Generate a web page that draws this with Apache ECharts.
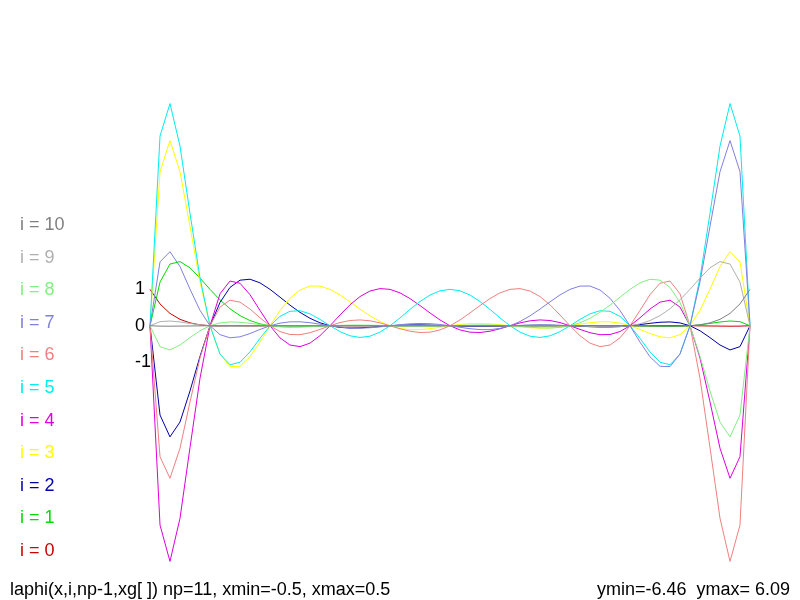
<!DOCTYPE html>
<html>
<head>
<meta charset="utf-8">
<script src="https://cdn.jsdelivr.net/npm/echarts@6/dist/echarts.min.js"></script>
<style>html,body{margin:0;padding:0;background:#fff;}#c{width:800px;height:600px;}</style>
</head>
<body>
<div id="c"></div>
<script>
var xs = [-0.5,-0.4833,-0.4667,-0.45,-0.4333,-0.4167,-0.4,-0.3833,-0.3667,-0.35,-0.3333,-0.3167,-0.3,-0.2833,-0.2667,-0.25,-0.2333,-0.2167,-0.2,-0.1833,-0.1667,-0.15,-0.1333,-0.1167,-0.1,-0.0833,-0.0667,-0.05,-0.0333,-0.0167,0,0.0167,0.0333,0.05,0.0667,0.0833,0.1,0.1167,0.1333,0.15,0.1667,0.1833,0.2,0.2167,0.2333,0.25,0.2667,0.2833,0.3,0.3167,0.3333,0.35,0.3667,0.3833,0.4,0.4167,0.4333,0.45,0.4667,0.4833,0.5];

var phi0 = [1,0.5994,0.3390,0.1762,0.0795,0.0262,0,-0.0102,-0.0117,-0.0093,-0.0057,-0.0024,0,0.0013,0.0018,0.0016,0.0011,0.0005,0,-0.0004,-0.0005,-0.0005,-0.0004,-0.0002,0,0.0002,0.0003,0.0003,0.0002,0.0001,0,-0.0001,-0.0002,-0.0002,-0.0002,-0.0001,0,0.0001,0.0002,0.0003,0.0003,0.0002,0,-0.0002,-0.0004,-0.0005,-0.0005,-0.0004,0,0.0005,0.0011,0.0016,0.0018,0.0013,0,-0.0024,-0.0057,-0.0093,-0.0117,-0.0102,0];
var phi1 = [0,1.1989,1.6951,1.7620,1.5906,1.3092,1,0.7112,0.4676,0.2782,0.1420,0.0524,0,-0.0249,-0.0315,-0.0273,-0.0182,-0.0083,0,0.0054,0.0078,0.0076,0.0057,0.0029,0,-0.0023,-0.0036,-0.0038,-0.0030,-0.0017,0,0.0015,0.0026,0.0029,0.0025,0.0015,0,-0.0016,-0.0028,-0.0035,-0.0032,-0.0020,0,0.0025,0.0048,0.0063,0.0063,0.0043,0,-0.0061,-0.0129,-0.0185,-0.0203,-0.0151,0,0.0267,0.0636,0.1036,0.1304,0.1131,0];
var phi2 = [0,-2.4522,-3.0511,-2.6430,-1.7894,-0.8417,0,0.6401,1.0521,1.2519,1.2781,1.1783,1,0.7850,0.5665,0.3682,0.2045,0.0818,0,-0.0453,-0.0616,-0.0573,-0.0409,-0.0199,0,0.0149,0.0229,0.0238,0.0188,0.0101,0,-0.0090,-0.0151,-0.0170,-0.0146,-0.0084,0,0.0087,0.0157,0.0191,0.0176,0.0109,0,-0.0132,-0.0256,-0.0335,-0.0333,-0.0224,0,0.0318,0.0673,0.0963,0.1052,0.0781,0,-0.1370,-0.3253,-0.5286,-0.6633,-0.5739,0];
var phi3 = [0,4.2313,5.0852,4.2287,2.7267,1.2085,0,-0.7758,-1.1222,-1.1128,-0.8521,-0.4489,0,0.4187,0.7554,0.9819,1.0907,1.0901,1,0.8462,0.6568,0.4582,0.2727,0.1166,0,-0.0737,-0.1067,-0.1057,-0.0804,-0.0416,0,0.0352,0.0574,0.0635,0.0534,0.0304,0,-0.0307,-0.0545,-0.0655,-0.0597,-0.0368,0,0.0436,0.0839,0.1091,0.1079,0.0722,0,-0.1014,-0.2130,-0.3035,-0.3301,-0.2438,0,0.4246,1.0046,1.6264,2.0341,1.7544,0];
var phi4 = [0,-5.4731,-6.4720,-5.2859,-3.3402,-1.4471,0,0.8785,1.2275,1.1685,0.8521,0.4230,0,-0.3330,-0.5288,-0.5728,-0.4772,-0.2725,0,0.2962,0.5747,0.8019,0.9543,1.0204,1,0.9030,0.7472,0.5552,0.3516,0.1600,0,-0.1143,-0.1758,-0.1851,-0.1494,-0.0821,0,0.0785,0.1363,0.1604,0.1437,0.0871,0,-0.1004,-0.1909,-0.2455,-0.2403,-0.1593,0,0.2200,0.4588,0.6492,0.7014,0.5150,0,-0.8869,-2.0876,-3.3638,-4.1878,-3.5966,0];
var phi5 = [0,5.2089,6.1022,4.9335,3.0832,1.3197,0,-0.7792,-1.0712,-1.0015,-0.7158,-0.3473,0,0.2586,0.3966,0.4124,0.3272,0.1761,0,-0.1616,-0.2759,-0.3208,-0.2863,-0.1749,0,0.2167,0.4483,0.6662,0.8438,0.9598,1,0.9598,0.8438,0.6662,0.4483,0.2167,0,-0.1749,-0.2863,-0.3208,-0.2759,-0.1616,0,0.1761,0.3272,0.4124,0.3966,0.2586,0,-0.3473,-0.7158,-1.0015,-1.0712,-0.7792,0,1.3197,3.0832,4.9335,6.1022,5.2089,0];
var phi6 = [0,-3.5966,-4.1878,-3.3638,-2.0876,-0.8869,0,0.5150,0.7014,0.6492,0.4588,0.2200,0,-0.1593,-0.2403,-0.2455,-0.1909,-0.1004,0,0.0871,0.1437,0.1604,0.1363,0.0785,0,-0.0821,-0.1494,-0.1851,-0.1758,-0.1143,0,0.1600,0.3516,0.5552,0.7472,0.9030,1,1.0204,0.9543,0.8019,0.5747,0.2962,0,-0.2725,-0.4772,-0.5728,-0.5288,-0.3330,0,0.4230,0.8521,1.1685,1.2275,0.8785,0,-1.4471,-3.3402,-5.2859,-6.4720,-5.4731,0];
var phi7 = [0,1.7544,2.0341,1.6264,1.0046,0.4246,0,-0.2438,-0.3301,-0.3035,-0.2130,-0.1014,0,0.0722,0.1079,0.1091,0.0839,0.0436,0,-0.0368,-0.0597,-0.0655,-0.0545,-0.0307,0,0.0304,0.0534,0.0635,0.0574,0.0352,0,-0.0416,-0.0804,-0.1057,-0.1067,-0.0737,0,0.1166,0.2727,0.4582,0.6568,0.8462,1,1.0901,1.0907,0.9819,0.7554,0.4187,0,-0.4489,-0.8521,-1.1128,-1.1222,-0.7758,0,1.2085,2.7267,4.2287,5.0852,4.2313,0];
var phi8 = [0,-0.5739,-0.6633,-0.5286,-0.3253,-0.1370,0,0.0781,0.1052,0.0963,0.0673,0.0318,0,-0.0224,-0.0333,-0.0335,-0.0256,-0.0132,0,0.0109,0.0176,0.0191,0.0157,0.0087,0,-0.0084,-0.0146,-0.0170,-0.0151,-0.0090,0,0.0101,0.0188,0.0238,0.0229,0.0149,0,-0.0199,-0.0409,-0.0573,-0.0616,-0.0453,0,0.0818,0.2045,0.3682,0.5665,0.7850,1,1.1783,1.2781,1.2519,1.0521,0.6401,0,-0.8417,-1.7894,-2.6430,-3.0511,-2.4522,0];
var phi9 = [0,0.1131,0.1304,0.1036,0.0636,0.0267,0,-0.0151,-0.0203,-0.0185,-0.0129,-0.0061,0,0.0043,0.0063,0.0063,0.0048,0.0025,0,-0.0020,-0.0032,-0.0035,-0.0028,-0.0016,0,0.0015,0.0025,0.0029,0.0026,0.0015,0,-0.0017,-0.0030,-0.0038,-0.0036,-0.0023,0,0.0029,0.0057,0.0076,0.0078,0.0054,0,-0.0083,-0.0182,-0.0273,-0.0315,-0.0249,0,0.0524,0.1420,0.2782,0.4676,0.7112,1,1.3092,1.5906,1.7620,1.6951,1.1989,0];
var phi10 = [0,-0.0102,-0.0117,-0.0093,-0.0057,-0.0024,0,0.0013,0.0018,0.0016,0.0011,0.0005,0,-0.0004,-0.0005,-0.0005,-0.0004,-0.0002,0,0.0002,0.0003,0.0003,0.0002,0.0001,0,-0.0001,-0.0002,-0.0002,-0.0002,-0.0001,0,0.0001,0.0002,0.0003,0.0003,0.0002,0,-0.0002,-0.0004,-0.0005,-0.0005,-0.0004,0,0.0005,0.0011,0.0016,0.0018,0.0013,0,-0.0024,-0.0057,-0.0093,-0.0117,-0.0102,0,0.0262,0.0795,0.1762,0.3390,0.5994,1];

var seriesNames = ['i = 0','i = 1','i = 2','i = 3','i = 4','i = 5','i = 6','i = 7','i = 8','i = 9','i = 10'];
var yTickLabels = [-1, 0, 1];
var titleText = 'laphi(x,i,np-1,xg[ ]) np=11, xmin=-0.5, xmax=0.5';
var rangeText = 'ymin=-6.46  ymax= 6.09';

var allPhi = [phi0,phi1,phi2,phi3,phi4,phi5,phi6,phi7,phi8,phi9,phi10];
var colors = ['#cc0000','#00dd00','#0000aa','#ffff00','#dd00dd','#00eeee','#f08080','#8080e0','#80f080','#b0b0b0','#808080'];
var FONT = 'Liberation Sans, Arial, sans-serif';

var series = allPhi.map(function (ys, i) {
  return {
    name: seriesNames[i], type: 'line', showSymbol: false, clip: false,
    lineStyle: { width: 1, color: colors[i] }, itemStyle: { color: colors[i] },
    data: xs.map(function (x, j) { return [x, ys[j]]; })
  };
});

var graphics = seriesNames.map(function (n, i) {
  return { type: 'text',
    style: { text: n, x: 20, y: 551 - i * 32.6, verticalAlign: 'middle', fill: colors[i], font: '18px ' + FONT } };
});
graphics.push({ type: 'text', style: { text: titleText, x: 10, y: 590, verticalAlign: 'middle', fill: '#000', font: '18px ' + FONT } });
graphics.push({ type: 'text', style: { text: rangeText, x: 790, y: 590, align: 'right', verticalAlign: 'middle', fill: '#000', font: '18px ' + FONT } });

var chart = echarts.init(document.getElementById('c'));
chart.setOption({
  animation: false,
  backgroundColor: '#ffffff',
  grid: { left: 150, width: 600, top: 104, height: 457 },
  xAxis: { type: 'value', min: -0.5, max: 0.5, show: false },
  yAxis: {
    type: 'value', min: -6.46, max: 6.09,
    axisLine: { show: false }, axisTick: { show: false }, splitLine: { show: false },
    axisLabel: { customValues: yTickLabels, align: 'left', margin: 15, color: '#000', fontSize: 18, fontFamily: FONT, padding: [6, 0, 0, 0] }
  },
  graphic: graphics,
  series: series
});
</script>
</body>
</html>
